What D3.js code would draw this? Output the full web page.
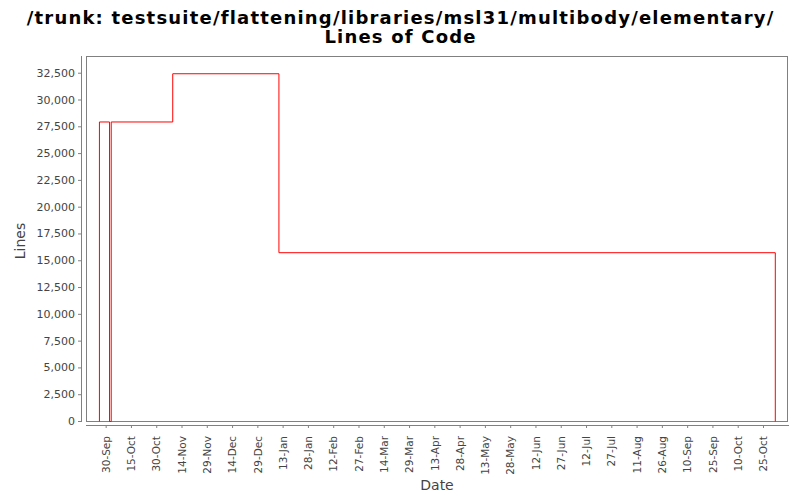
<!DOCTYPE html>
<html><head><meta charset="utf-8">
<script src="https://cdn.jsdelivr.net/npm/d3@7"></script>
<style>body{margin:0;background:#fff}svg{display:block}</style>
</head><body>
<svg id="c" width="800" height="500"></svg>
<script>
const titleLines = ["/trunk: testsuite/flattening/libraries/msl31/multibody/elementary/", "Lines of Code"];
const xLabel = "Date";
const yLabel = "Lines";
// step series (step-after): dates and values
const dates = ["2010-09-26T00:00", "2010-09-26T00:00", "2010-10-02T00:00", "2010-10-03T00:00", "2010-11-08T12:00", "2011-01-10T12:00", "2011-11-01T00:00"];
const values = [0, 27950, 0, 27950, 32450, 15750, 0];
const xTickStart = "2010-09-30T00:00";
const xTickStepDays = 15;
const xTickCount = 27;
const yTicks = [0, 2500, 5000, 7500, 10000, 12500, 15000, 17500, 20000, 22500, 25000, 27500, 30000, 32500];
const xDomain = ["2010-09-18T08:00", "2011-11-08T20:00"];
const yDomain = [0, 34060];

const parse = d3.isoParse;
const svg = d3.select("#c");
const L = 86, R = 788, T = 56, B = 421;
const x = d3.scaleTime().domain(xDomain.map(parse)).range([L, R]);
const y = d3.scaleLinear().domain(yDomain).range([B, T]);

// title
const title = svg.append("g").attr("font-family", "DejaVu Sans").attr("font-weight", "bold").attr("font-size", 18).attr("letter-spacing", "1.2px").attr("text-anchor", "middle").attr("fill", "#000");
titleLines.forEach((t, i) => title.append("text").attr("x", 400.6).attr("y", 23.5 + i * 19.5).text(t));

// plot border
svg.append("rect").attr("x", L + 0.5).attr("y", T + 0.5).attr("width", R - L - 1).attr("height", B - T).attr("fill", "#fff").attr("stroke", "#808080");

// x axis
const tickDates = d3.range(xTickCount).map(i => d3.timeDay.offset(parse(xTickStart), i * xTickStepDays));
const fmt = d3.timeFormat("%-d-%b");
const xAxis = d3.axisBottom(x).tickValues(tickDates).tickFormat(fmt).tickSizeInner(3).tickSizeOuter(0).tickPadding(6);
const gx = svg.append("g").attr("transform", `translate(0,${B + 4})`).call(xAxis);
gx.select(".domain").attr("d", `M${L},0.5H${R + 1}`).attr("stroke", "#808080");
gx.selectAll(".tick line").attr("stroke", "#808080");
gx.selectAll(".tick text").attr("transform", "rotate(-90)").attr("text-anchor", "end").attr("x", -11).attr("y", 0).attr("dy", "0.35em")
  .attr("font-family", "DejaVu Sans").attr("font-size", 10.5).attr("fill", "#444");

// y axis
const yAxis = d3.axisLeft(y).tickValues(yTicks).tickFormat(d3.format(",")).tickSizeInner(4).tickSizeOuter(0).tickPadding(3);
const gy = svg.append("g").attr("transform", `translate(${L - 4},0)`).call(yAxis);
gy.select(".domain").attr("d", `M-0.5,${T}V${B + 1}`).attr("stroke", "#808080");
gy.selectAll(".tick line").attr("stroke", "#808080");
gy.selectAll(".tick text").attr("font-family", "DejaVu Sans").attr("font-size", 11).attr("fill", "#444");

// axis labels
svg.append("text").attr("x", 437).attr("y", 490).attr("text-anchor", "middle").attr("font-family", "DejaVu Sans").attr("font-size", 14).attr("fill", "#444").text(xLabel);
svg.append("text").attr("transform", "translate(25,241) rotate(-90)").attr("text-anchor", "middle").attr("font-family", "DejaVu Sans").attr("font-size", 14).attr("fill", "#444").text(yLabel);

// series
const pts = dates.map((d, i) => [parse(d), values[i]]);
const line = d3.line().x(d => x(d[0])).y(d => y(d[1])).curve(d3.curveStepAfter);
svg.append("path").datum(pts).attr("d", line).attr("fill", "none").attr("stroke", "#ff0000").attr("stroke-width", 1).attr("transform", "translate(0.5,0.5)");
</script>
</body></html>
